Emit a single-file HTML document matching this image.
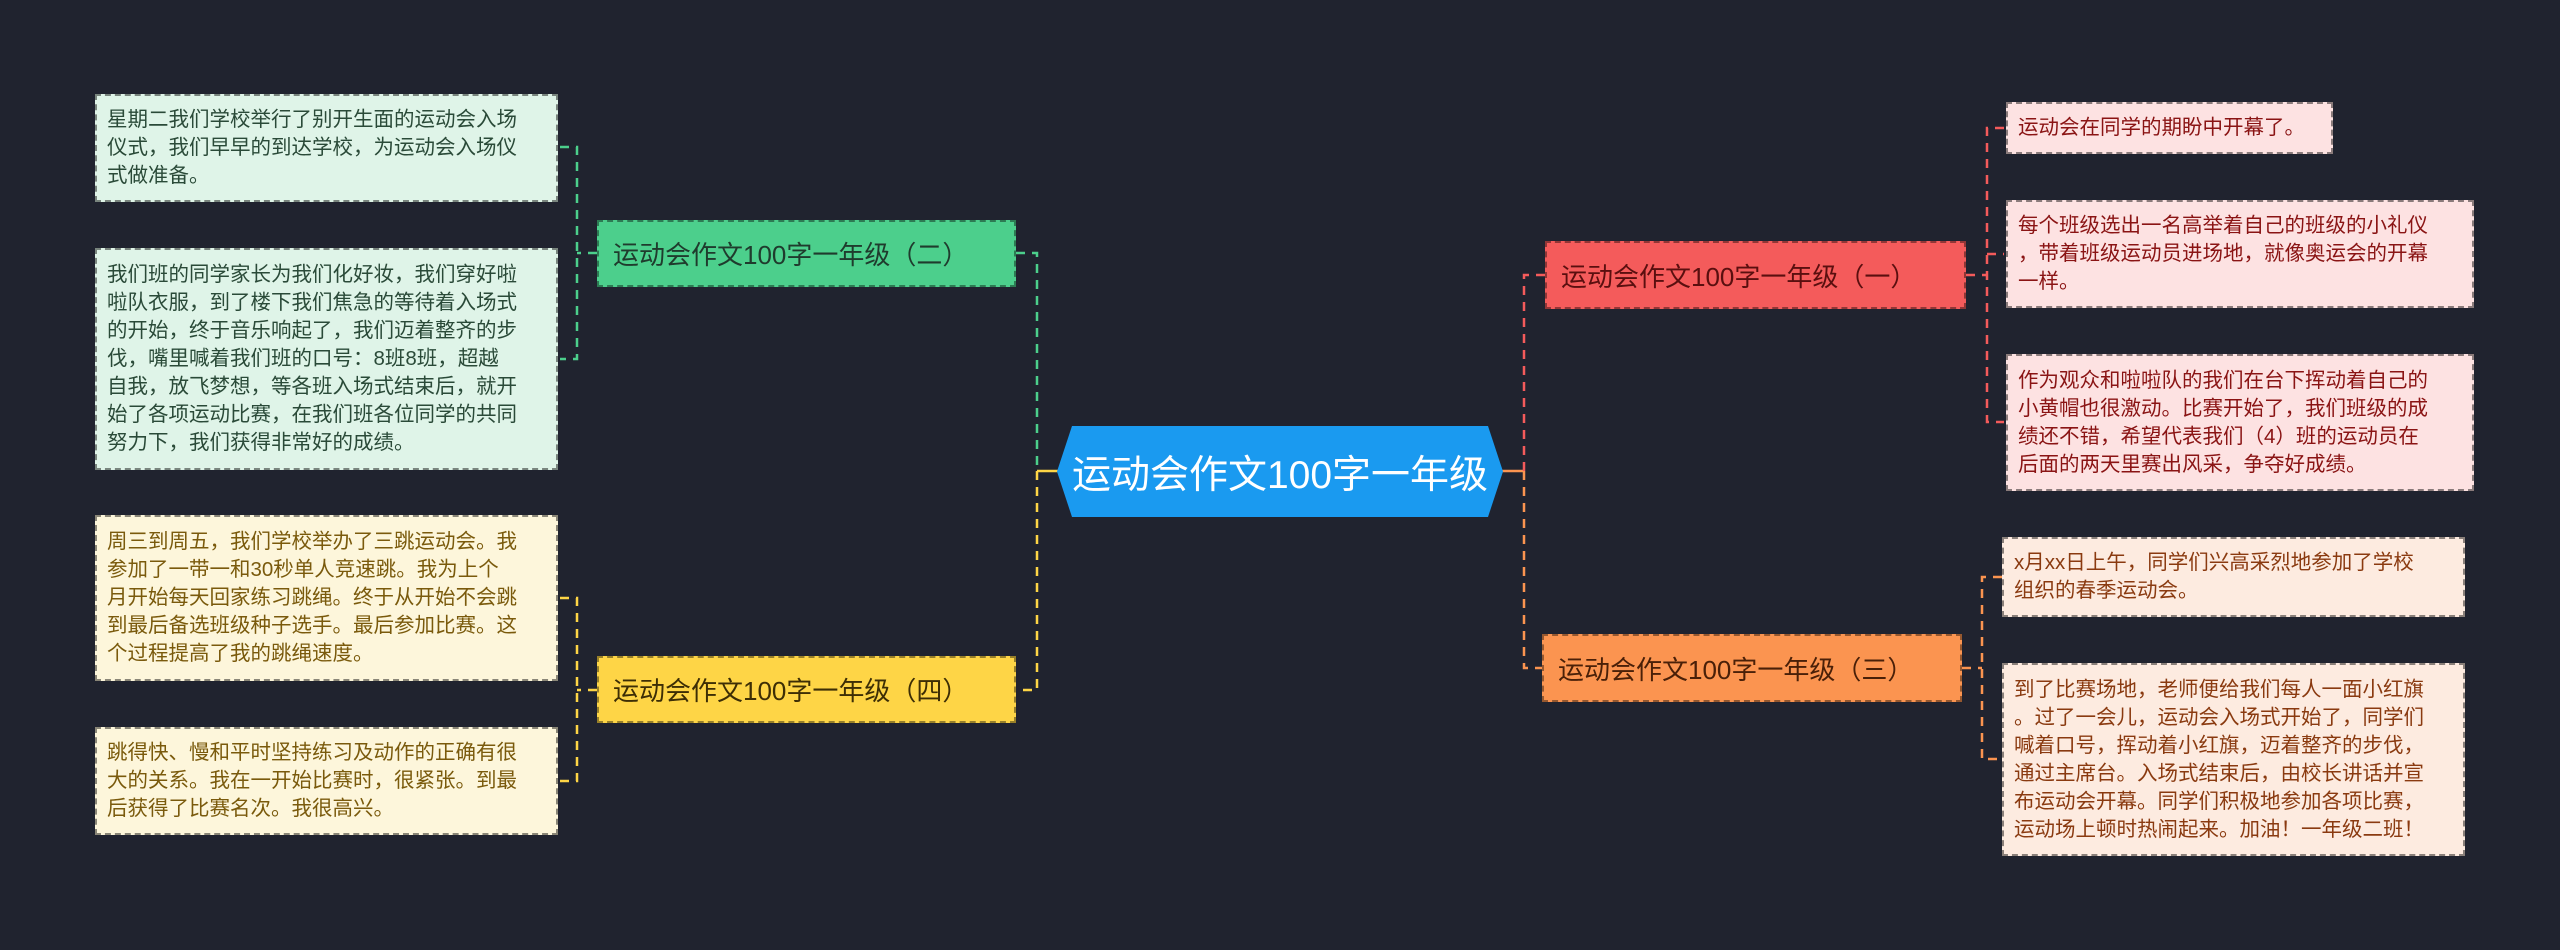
<!DOCTYPE html>
<html><head><meta charset="utf-8"><style>
body{margin:0;width:2560px;height:950px;background:#20232f;position:relative;overflow:hidden;font-family:"Liberation Sans","Noto Sans CJK SC",sans-serif}
.n{position:absolute;box-sizing:border-box;border:2px dashed rgba(0,0,0,.45);font-size:20.5px;line-height:28px;padding:0 10px;display:flex;align-items:center;white-space:nowrap}
.t{position:absolute;box-sizing:border-box;border:2px dashed rgba(0,0,0,.4);font-size:26px;display:flex;align-items:center;padding-left:14px;white-space:nowrap}
.g{background:#dff4e8;color:#2a4a38}.y{background:#fdf6db;color:#7a5a0c}.r{background:#fde2e2;color:#8a1414}.o{background:#fdebe0;color:#8a3a10}
svg{position:absolute;left:0;top:0}
</style></head><body>
<svg width="2560" height="950" fill="none" stroke-width="2.5" stroke-dasharray="9 7">
<path d="M1016 253 H1037 V471" stroke="#4ccf8c"/>
<path d="M1037 471 V690 H1016" stroke="#fed546"/>
<path d="M1037 471 H1058" stroke="#fed546" stroke-dasharray="none"/>
<path d="M597 253 H577 M560 147 H577 V359 H560" stroke="#4ccf8c"/>
<path d="M597 690 H577 M560 598 H577 V781 H560" stroke="#fed546"/>
<path d="M1502 471 H1524" stroke="#fb9450" stroke-dasharray="none"/>
<path d="M1524 471 V275 H1545" stroke="#f45b5b"/>
<path d="M1524 471 V668 H1542" stroke="#fb9450"/>
<path d="M1966 275 H1987 M2004 128 H1987 V422 H2004 M1987 254 H2004" stroke="#f45b5b"/>
<path d="M1962 668 H1982 M2002 577 H1982 V759 H2002" stroke="#fb9450"/>
</svg>
<div style="position:absolute;left:1057px;top:426px;width:446px;height:91px;background:#1a9af0;clip-path:polygon(15px 0,431px 0,446px 50%,431px 100%,15px 100%,0 50%);color:#fff;font-size:39px;display:flex;align-items:center;justify-content:center">运动会作文100字一年级</div>
<div class="t" style="left:597px;top:220px;width:419px;height:67px;background:#4ccf8c;color:#1f3b2d">运动会作文100字一年级（二）</div>
<div class="t" style="left:597px;top:656px;width:419px;height:67px;background:#fed546;color:#3d2e05">运动会作文100字一年级（四）</div>
<div class="t" style="left:1545px;top:241px;width:421px;height:68px;background:#f45b5b;color:#5a0f0f">运动会作文100字一年级（一）</div>
<div class="t" style="left:1542px;top:634px;width:420px;height:68px;background:#fb9450;color:#4a2008">运动会作文100字一年级（三）</div>
<div class="n g" style="left:95px;top:94px;width:463px;height:108px">星期二我们学校举行了别开生面的运动会入场<br>仪式，我们早早的到达学校，为运动会入场仪<br>式做准备。</div>
<div class="n g" style="left:95px;top:248px;width:463px;height:222px">我们班的同学家长为我们化好妆，我们穿好啦<br>啦队衣服，到了楼下我们焦急的等待着入场式<br>的开始，终于音乐响起了，我们迈着整齐的步<br>伐，嘴里喊着我们班的口号：8班8班，超越<br>自我，放飞梦想，等各班入场式结束后，就开<br>始了各项运动比赛，在我们班各位同学的共同<br>努力下，我们获得非常好的成绩。</div>
<div class="n y" style="left:95px;top:515px;width:463px;height:166px">周三到周五，我们学校举办了三跳运动会。我<br>参加了一带一和30秒单人竞速跳。我为上个<br>月开始每天回家练习跳绳。终于从开始不会跳<br>到最后备选班级种子选手。最后参加比赛。这<br>个过程提高了我的跳绳速度。</div>
<div class="n y" style="left:95px;top:727px;width:463px;height:108px">跳得快、慢和平时坚持练习及动作的正确有很<br>大的关系。我在一开始比赛时，很紧张。到最<br>后获得了比赛名次。我很高兴。</div>
<div class="n r" style="left:2006px;top:102px;width:327px;height:52px">运动会在同学的期盼中开幕了。</div>
<div class="n r" style="left:2006px;top:200px;width:468px;height:108px">每个班级选出一名高举着自己的班级的小礼仪<br>，带着班级运动员进场地，就像奥运会的开幕<br>一样。</div>
<div class="n r" style="left:2006px;top:354px;width:468px;height:137px">作为观众和啦啦队的我们在台下挥动着自己的<br>小黄帽也很激动。比赛开始了，我们班级的成<br>绩还不错，希望代表我们（4）班的运动员在<br>后面的两天里赛出风采，争夺好成绩。</div>
<div class="n o" style="left:2002px;top:537px;width:463px;height:80px">x月xx日上午，同学们兴高采烈地参加了学校<br>组织的春季运动会。</div>
<div class="n o" style="left:2002px;top:663px;width:463px;height:193px">到了比赛场地，老师便给我们每人一面小红旗<br>。过了一会儿，运动会入场式开始了，同学们<br>喊着口号，挥动着小红旗，迈着整齐的步伐，<br>通过主席台。入场式结束后，由校长讲话并宣<br>布运动会开幕。同学们积极地参加各项比赛，<br>运动场上顿时热闹起来。加油！一年级二班！</div>
</body></html>
